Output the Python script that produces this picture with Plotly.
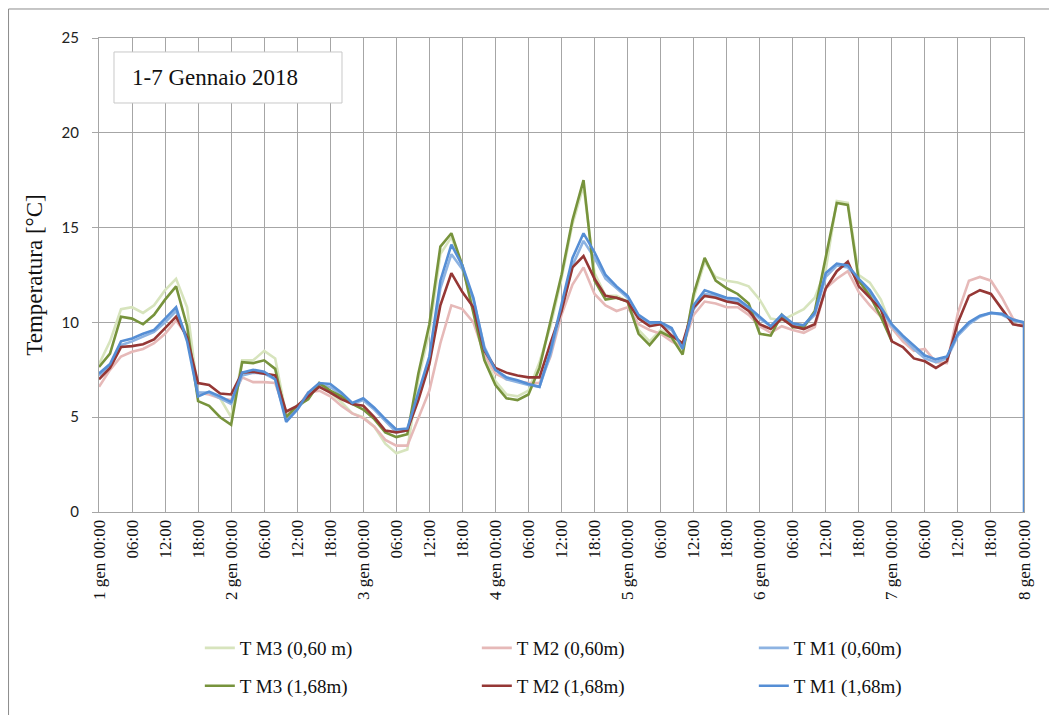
import plotly.graph_objects as go

# ---------------- data (hours from 1 Jan 2018 00:00, every 2 h) ----------------
hours = list(range(0, 169, 2))

# T M3 (0,60 m) – light green (ends around 7 gen 00:00)
m3_060 = [7.8, 9.0, 10.7, 10.8, 10.5, 10.9, 11.7, 12.3, 10.8, 6.2,
          6.3, 6.0, 5.0, 8.0, 8.0, 8.5, 8.1, 5.1, 5.5, 6.0,
          6.8, 6.3, 5.8, 5.2, 5.0, 4.5, 3.6, 3.1, 3.3, 7.0,
          9.5, 13.6, 14.5, 13.0, 10.6, 8.2, 6.9, 6.2, 6.1, 6.4,
          7.9, 9.8, 12.3, 15.2, 17.2, 12.6, 11.4, 11.4, 11.1, 9.6,
          9.0, 9.6, 9.3, 8.5, 11.3, 13.2, 12.4, 12.2, 12.1, 11.9,
          11.2, 10.2, 10.1, 10.4, 10.7, 11.3, 12.8, 16.4, 16.3, 12.5,
          12.1, 11.2, 9.7, None, None, None, None, None, None, None,
          None, None, None, None, None]

# T M2 (0,60m) – pink
m2_060 = [6.6, 7.5, 8.2, 8.45, 8.6, 8.9, 9.4, 10.1, 9.3, 6.3,
          6.2, 6.0, 5.9, 7.1, 6.85, 6.85, 6.8, 5.1, 5.5, 6.3,
          6.4, 6.1, 5.6, 5.2, 4.95, 4.5, 3.8, 3.5, 3.5, 5.0,
          6.4, 8.9, 10.9, 10.7, 10.0, 8.3, 7.3, 7.0, 6.9, 6.8,
          6.8, 8.2, 10.4, 12.0, 12.9, 11.5, 10.9, 10.6, 10.8, 9.9,
          9.6, 9.4, 9.0, 8.7, 10.4, 11.1, 11.0, 10.8, 10.8, 10.4,
          9.8, 9.45, 9.8, 9.6, 9.45, 9.75, 11.8, 12.3, 12.7, 11.6,
          10.9, 10.3, 9.7, 9.0, 8.5, 8.6, 7.9, 7.85, 10.5, 12.2,
          12.4, 12.2, 11.3, 10.2, 9.9]

# T M1 (0,60m) – light blue
m1_060 = [7.2, 7.7, 8.8, 9.0, 9.25, 9.5, 10.0, 10.6, 9.2, 6.3,
          6.3, 6.0, 5.7, 7.2, 7.35, 7.3, 7.0, 4.9, 5.4, 6.2,
          6.7, 6.6, 6.2, 5.7, 5.9, 5.4, 4.8, 4.2, 4.3, 6.1,
          8.0, 11.8, 13.6, 12.8, 11.2, 8.7, 7.5, 7.0, 6.85, 6.7,
          6.6, 8.3, 10.7, 13.0, 14.3, 13.4, 12.3, 11.8, 11.3, 10.3,
          9.9, 9.9, 9.6, 8.7, 10.7, 11.5, 11.4, 11.2, 11.1, 10.7,
          10.2, 9.8, 10.3, 9.9, 9.8, 10.4, 12.4, 13.0, 12.9, 12.2,
          11.6, 10.7, 9.8, 9.2, 8.6, 8.1, 7.9, 8.1, 9.3, 9.9,
          10.3, 10.5, 10.4, 10.1, 10.0]

# T M3 (1,68m) – dark green (ends around 7 gen 00:00)
m3_168 = [7.65, 8.35, 10.3, 10.2, 9.9, 10.4, 11.2, 11.9, 9.8, 5.85,
          5.6, 5.0, 4.6, 7.9, 7.85, 8.0, 7.55, 5.0, 5.6, 5.95,
          6.8, 6.4, 6.1, 5.7, 5.4, 4.9, 4.2, 3.95, 4.1, 7.3,
          9.9, 14.0, 14.7, 13.0, 10.5, 8.0, 6.7, 6.0, 5.9, 6.2,
          7.6, 10.0, 12.5, 15.4, 17.5, 12.2, 11.2, 11.3, 11.1, 9.4,
          8.8, 9.5, 9.2, 8.3, 11.5, 13.4, 12.2, 11.8, 11.5, 11.0,
          9.4, 9.3, 10.4, 9.75, 9.75, 10.6, 13.4, 16.3, 16.2, 12.2,
          11.4, 10.3, 9.0, None, None, None, None, None, None, None,
          None, None, None, None, None]

# T M2 (1,68m) – dark red
m2_168 = [7.0, 7.6, 8.7, 8.75, 8.85, 9.1, 9.7, 10.3, 9.2, 6.8,
          6.7, 6.25, 6.2, 7.35, 7.4, 7.3, 7.2, 5.3, 5.6, 6.1,
          6.6, 6.3, 5.95, 5.7, 5.6, 5.0, 4.3, 4.2, 4.3, 5.9,
          7.8, 10.9, 12.6, 11.6, 10.8, 8.5, 7.6, 7.35, 7.2, 7.1,
          7.1, 8.9, 10.6, 12.9, 13.5, 12.3, 11.4, 11.3, 11.1, 10.2,
          9.8, 9.9, 9.3, 8.9, 10.8, 11.4, 11.3, 11.1, 11.0, 10.6,
          9.9, 9.65, 10.2, 9.8, 9.65, 9.9, 11.8, 12.7, 13.2, 11.9,
          11.3, 10.7, 9.0, 8.7, 8.1, 7.95, 7.6, 7.95, 10.0, 11.4,
          11.7, 11.5, 10.7, 9.9, 9.8]

# T M1 (1,68m) – blue (logger drops to 0 at the very end)
m1_168 = [7.3, 7.8, 9.0, 9.15, 9.4, 9.6, 10.2, 10.8, 9.0, 6.1,
          6.35, 6.1, 5.8, 7.35, 7.5, 7.4, 7.0, 4.75, 5.4, 6.3,
          6.8, 6.75, 6.3, 5.75, 6.0, 5.5, 4.9, 4.35, 4.4, 6.3,
          8.2, 12.2, 14.1, 13.0, 11.3, 8.6, 7.5, 7.1, 6.95, 6.75,
          6.6, 8.5, 11.0, 13.4, 14.7, 13.7, 12.5, 11.9, 11.4, 10.4,
          10.0, 10.0, 9.7, 8.6, 10.9, 11.7, 11.5, 11.3, 11.25, 10.8,
          10.3, 9.8, 10.4, 9.95, 9.85, 10.5, 12.6, 13.1, 13.0, 12.3,
          11.7, 10.8, 9.9, 9.3, 8.75, 8.25, 8.05, 8.2, 9.4, 10.0,
          10.35, 10.5, 10.45, 10.15, 10.0, 0.0]
hours_m1_168 = hours + [168]

series_names = ["T M3 (0,60 m)", "T M2 (0,60m)", "T M1 (0,60m)",
                "T M3 (1,68m)", "T M2 (1,68m)", "T M1 (1,68m)"]
series_colors = ["#d7e4bd", "#e6b9b8", "#8db3e2", "#77933c", "#953735", "#558ed5"]

# x tick labels every 6 hours
tick_hours = list(range(0, 169, 6))
tick_text = []
for h in tick_hours:
    if h % 24 == 0:
        tick_text.append(f"{h // 24 + 1} gen 00:00")
    else:
        tick_text.append(f"{h % 24:02d}:00")

y_ticks = [0, 5, 10, 15, 20, 25]

# ---------------- figure ----------------
fig = go.Figure()
series_values = [m3_060, m2_060, m1_060, m3_168, m2_168, m1_168]
series_x = [hours, hours, hours, hours, hours, hours_m1_168]
for i, (name, col, xs, ys) in enumerate(zip(series_names, series_colors, series_x, series_values)):
    fig.add_trace(go.Scatter(
        x=xs, y=ys, name=name, mode="lines",
        line=dict(color=col, width=2.6, shape="linear"),
        legend="legend" if i < 3 else "legend2",
        connectgaps=False,
    ))

grid_col = "#a6a6a6"
serif = "Liberation Serif, Times New Roman, serif"
sans = "Lato, Carlito, Liberation Sans, sans-serif"

fig.update_layout(
    width=1057, height=715,
    margin=dict(l=91, r=41, t=30, b=211),
    paper_bgcolor="white", plot_bgcolor="white",
    xaxis=dict(range=[0, 168], tickmode="array", tickvals=tick_hours, ticktext=tick_text,
               tickangle=-90, showgrid=True, gridcolor=grid_col, gridwidth=1,
               showline=True, linecolor=grid_col, linewidth=1, mirror=True,
               ticks="", zeroline=False,
               tickfont=dict(family=serif, size=17, color="#111")),
    yaxis=dict(range=[0, 25], tickmode="array", tickvals=y_ticks,
               showgrid=True, gridcolor=grid_col, gridwidth=1,
               showline=True, linecolor=grid_col, linewidth=1, mirror=True,
               ticks="outside", ticklen=6, tickcolor=grid_col, zeroline=False,
               ticklabelstandoff=10,
               tickfont=dict(family=sans, size=15, color="#222"),
               title=dict(text="Temperatura [°C]", standoff=12,
                          font=dict(family=serif, size=23, color="#111"))),
    legend=dict(orientation="h", x=0.109, y=-0.287, xanchor="left", yanchor="middle",
                entrywidth=232, entrywidthmode="pixels",
                font=dict(family=serif, size=19, color="#111"), bgcolor="rgba(0,0,0,0)"),
    legend2=dict(orientation="h", x=0.109, y=-0.367, xanchor="left", yanchor="middle",
                 entrywidth=232, entrywidthmode="pixels",
                 font=dict(family=serif, size=19, color="#111"), bgcolor="rgba(0,0,0,0)"),
    showlegend=True,
)

# outer chart frame (left/top edges visible, rest beyond the picture)
fig.add_shape(type="rect", xref="paper", yref="paper",
              x0=-0.0978, x1=1.06, y0=-0.47, y1=1.0612,
              line=dict(color="#8c8c8c", width=1), fillcolor="rgba(0,0,0,0)", layer="below")

# title box
fig.add_shape(type="rect", xref="paper", yref="paper",
              x0=0.0162, x1=0.2627, y0=0.8629, y1=0.9705,
              line=dict(color="#c8c8c8", width=1), fillcolor="white", layer="above")
fig.add_annotation(xref="paper", yref="paper", x=0.0335, y=0.9177,
                   xanchor="left", yanchor="middle", showarrow=False,
                   text="1-7 Gennaio 2018",
                   font=dict(family=serif, size=23, color="#111"))

fig.write_html("out.html")
